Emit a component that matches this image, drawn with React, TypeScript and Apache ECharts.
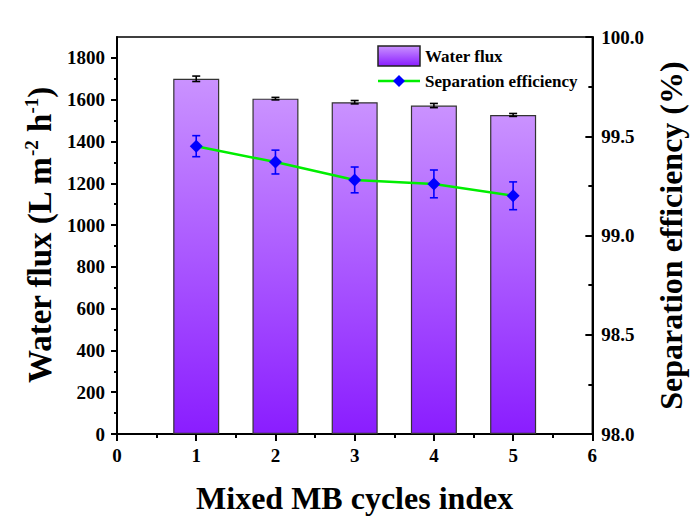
import React, { useEffect, useRef } from "react";
import * as echarts from "echarts";

const cycles = [1, 2, 3, 4, 5];
const flux = [1700, 1605, 1588, 1572, 1527];
const fluxErr = [13, 6, 8, 10, 7];
const efficiency = [99.45, 99.37, 99.28, 99.26, 99.2];
const effErr = [0.053, 0.06, 0.065, 0.07, 0.07];
const fluxMajorTicks = [0, 200, 400, 600, 800, 1000, 1200, 1400, 1600, 1800];
const fluxMinorTicks = [100, 300, 500, 700, 900, 1100, 1300, 1500, 1700];

const FONT = "Liberation Serif";

function errRender(color: string) {
  return (params: any, api: any) => {
    const x = api.value(0);
    const hi = api.coord([x, api.value(1)]);
    const lo = api.coord([x, api.value(2)]);
    const w = 4;
    const style = { stroke: color, lineWidth: 1.6 };
    return {
      type: "group",
      children: [
        { type: "line", shape: { x1: hi[0], y1: hi[1], x2: lo[0], y2: lo[1] }, style },
        { type: "line", shape: { x1: hi[0] - w, y1: hi[1], x2: hi[0] + w, y2: hi[1] }, style },
        { type: "line", shape: { x1: lo[0] - w, y1: lo[1], x2: lo[0] + w, y2: lo[1] }, style },
      ],
    };
  };
}

export default function App() {
  const ref = useRef<HTMLDivElement>(null);
  useEffect(() => {
    const chart = echarts.init(ref.current!, null, { renderer: "svg" });
    const barGrad = () =>
      new echarts.graphic.LinearGradient(0, 0, 0, 1, [
        { offset: 0, color: "#ca92ff" },
        { offset: 1, color: "#8a1dff" },
      ]);
    const labelStyle = { fontFamily: FONT, fontWeight: "bold", fontSize: 19, color: "#000" };
    const nameStyle = { fontFamily: FONT, fontWeight: "bold", fontSize: 32, color: "#000" };
    chart.setOption({
      animation: false,
      backgroundColor: "#fff",
      grid: {
        left: 117,
        right: 101,
        top: 37,
        bottom: 97,
        show: true,
        borderColor: "#000",
        borderWidth: 1.5,
        backgroundColor: "transparent",
      },
      xAxis: {
        type: "value",
        min: 0,
        max: 6,
        interval: 1,
        name: "Mixed MB cycles index",
        nameLocation: "middle",
        nameGap: 48,
        nameTextStyle: nameStyle,
        axisLine: { show: true, lineStyle: { color: "#000", width: 2 } },
        axisTick: { show: true, length: 7, lineStyle: { color: "#000", width: 2 } },
        minorTick: { show: true, splitNumber: 2, length: 4, lineStyle: { color: "#000", width: 2 } },
        splitLine: { show: false },
        axisLabel: { ...labelStyle, margin: 12 },
      },
      yAxis: [
        {
          type: "value",
          min: 0,
          max: 1900,
          interval: 100,
          position: "left",
          name: "Water flux (L m{sup|-2} h{sup|-1})",
          nameLocation: "middle",
          nameGap: 60,
          nameTextStyle: {
            ...nameStyle,
            fontSize: 33,
            rich: {
              sup: { fontFamily: FONT, fontWeight: "bold", fontSize: 19, color: "#000", verticalAlign: "top", padding: [0, 0, 16, 0] },
            },
          },
          axisLine: { show: true, lineStyle: { color: "#000", width: 2 } },
          axisTick: { show: true, length: 6, customValues: fluxMajorTicks, lineStyle: { color: "#000", width: 2 } },
          axisLabel: { ...labelStyle, margin: 12, customValues: fluxMajorTicks, formatter: (v: number) => String(v) },
          splitLine: { show: false },
        },
        {
          type: "value",
          min: 98,
          max: 100,
          interval: 0.5,
          position: "right",
          name: "Separation efficiency (%)",
          nameLocation: "middle",
          nameGap: 62,
          nameTextStyle: { ...nameStyle, fontSize: 32 },
          axisLine: { show: true, lineStyle: { color: "#000", width: 2 } },
          axisTick: { show: true, inside: true, length: 7, lineStyle: { color: "#000", width: 2 } },
          minorTick: { show: true, splitNumber: 2, length: 4, lineStyle: { color: "#000", width: 2 } },
          axisLabel: { ...labelStyle, margin: 9, formatter: (v: number) => v.toFixed(1) },
          splitLine: { show: false },
        },
        {
          type: "value",
          min: 0,
          max: 1900,
          interval: 100,
          position: "left",
          axisLine: { show: false },
          axisTick: { show: true, length: 3, customValues: fluxMinorTicks, lineStyle: { color: "#000", width: 2 } },
          axisLabel: { show: false },
          splitLine: { show: false },
        },
      ],
      graphic: [
        {
          type: "rect",
          shape: { x: 378, y: 46, width: 42, height: 20 },
          style: { fill: barGrad(), stroke: "#222", lineWidth: 1.5 },
        },
        {
          type: "text",
          x: 425,
          y: 56,
          style: { text: "Water flux", fontFamily: FONT, fontWeight: "bold", fontSize: 17, fill: "#000", verticalAlign: "middle" },
        },
        {
          type: "line",
          shape: { x1: 378, y1: 81, x2: 420, y2: 81 },
          style: { stroke: "#00ee00", lineWidth: 2.5 },
        },
        {
          type: "polygon",
          shape: { points: [[399, 75], [405, 81], [399, 87], [393, 81]] },
          style: { fill: "#0000ff" },
        },
        {
          type: "text",
          x: 425,
          y: 81,
          style: { text: "Separation efficiency", fontFamily: FONT, fontWeight: "bold", fontSize: 17, fill: "#000", verticalAlign: "middle" },
        },
      ],
      series: [
        {
          type: "bar",
          yAxisIndex: 0,
          barWidth: 46,
          data: cycles.map((c, i) => [c, flux[i]]),
          itemStyle: { color: barGrad(), borderColor: "#333", borderWidth: 1.2 },
          z: 2,
        },
        {
          type: "custom",
          yAxisIndex: 0,
          renderItem: errRender("#000"),
          data: cycles.map((c, i) => [c, flux[i] + fluxErr[i], flux[i] - fluxErr[i]]),
          z: 3,
        },
        {
          type: "custom",
          yAxisIndex: 1,
          renderItem: errRender("#0000ff"),
          data: cycles.map((c, i) => [c, efficiency[i] + effErr[i], efficiency[i] - effErr[i]]),
          z: 4,
        },
        {
          type: "line",
          yAxisIndex: 1,
          data: cycles.map((c, i) => [c, efficiency[i]]),
          symbol: "diamond",
          symbolSize: 13,
          itemStyle: { color: "#0000ff" },
          lineStyle: { color: "#00ee00", width: 2.5 },
          z: 5,
        },
      ],
    });
    return () => chart.dispose();
  }, []);
  return <div ref={ref} style={{ position: "fixed", left: 0, top: 0, width: 695, height: 531 }} />;
}
